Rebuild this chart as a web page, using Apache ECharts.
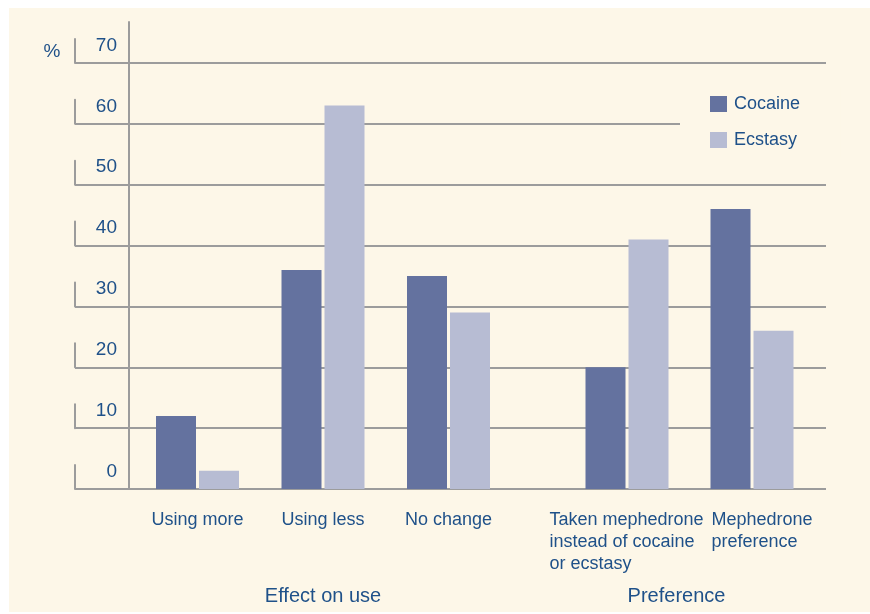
<!DOCTYPE html>
<html>
<head>
<meta charset="utf-8">
<script src="https://cdn.jsdelivr.net/npm/echarts@6/dist/echarts.min.js"></script>
<style>
  html, body { margin: 0; padding: 0; background: #ffffff; }
  #wrap { position: relative; width: 870px; height: 614px; overflow: hidden; }
  #paper { position: absolute; left: 9px; top: 8px; width: 861px; height: 604px; background: #fdf7e8; }
  #chart { position: absolute; left: 0; top: 0; width: 870px; height: 614px; }
</style>
</head>
<body>
<div id="wrap"><div id="paper"></div><div id="chart"></div></div>
<script>
// ---- data ----
const effectCategories = ['Using more', 'Using less', 'No change'];
const preferenceCategories = ['Taken mephedrone\ninstead of cocaine\nor ecstasy', 'Mephedrone\npreference'];
const groupNames = ['Effect on use', 'Preference'];
const seriesNames = ['Cocaine', 'Ecstasy'];
const cocaineEffect = [12, 36, 35];
const ecstasyEffect = [3, 63, 29];
const cocainePreference = [20, 46];
const ecstasyPreference = [41, 26];
const yMin = 0, yMax = 70, yStep = 10;
const yUnit = '%';

// ---- styles ----
const TEXT = '#1f5189';
const GRIDC = '#9c9c9c';
const COC = '#64729f';
const ECS = '#b7bcd3';
const FONT = '"Liberation Sans", Arial, sans-serif';

const chart = echarts.init(document.getElementById('chart'), null, { renderer: 'canvas' });

function richLabel(idx) {
  return (v) => v.split('\n').map(l => '{p' + idx + '|' + l + '}').join('\n');
}

const barCommon = { type: 'bar', barWidth: 40, barGap: '7.5%' };

chart.setOption({
  backgroundColor: 'transparent',
  animation: false,
  textStyle: { fontFamily: FONT },
  legend: {
    orient: 'vertical',
    left: 680, top: 87,
    padding: [8, 40, 8, 30],
    backgroundColor: '#fdf7e8',
    itemWidth: 17, itemHeight: 16, itemGap: 18,
    icon: 'rect',
    data: seriesNames,
    textStyle: { color: TEXT, fontSize: 18, fontFamily: FONT, padding: [0, 0, 0, 2] }
  },
  grid: [
    { left: 134.75, right: 358.75, top: 63, bottom: 125 },   // effect on use
    { left: 564.5, right: 55.5, top: 63, bottom: 125 },      // preference
    { left: 75, right: 44, top: 63, bottom: 125 },           // gridlines & y labels
    { left: 75, right: 44, top: 22, bottom: 125 }            // axis lines
  ],
  xAxis: [
    {
      gridIndex: 0, type: 'category', data: effectCategories,
      axisLine: { show: false }, axisTick: { show: false },
      axisLabel: { interval: 0, color: TEXT, fontSize: 18, fontFamily: FONT, margin: 20, lineHeight: 22 },
      name: groupNames[0], nameLocation: 'middle', nameGap: 97,
      nameTextStyle: { color: TEXT, fontSize: 20, fontFamily: FONT }
    },
    {
      gridIndex: 1, type: 'category', data: preferenceCategories,
      axisLine: { show: false }, axisTick: { show: false },
      axisLabel: {
        interval: 0, hideOverlap: false,
        color: TEXT, fontSize: 18, fontFamily: FONT, margin: 20, lineHeight: 22,
        formatter: (v, i) => richLabel(i)(v),
        rich: {
          p0: { align: 'left', color: TEXT, fontSize: 18, fontFamily: FONT, lineHeight: 22, padding: [0, 1, 0, 0] },
          p1: { align: 'left', color: TEXT, fontSize: 18, fontFamily: FONT, lineHeight: 22, padding: [0, 0, 0, 20] }
        }
      },
      name: groupNames[1], nameLocation: 'middle', nameGap: 97,
      nameTextStyle: { color: TEXT, fontSize: 20, fontFamily: FONT, padding: [0, 26, 0, 0] }
    },
    { gridIndex: 2, type: 'category', show: false },
    { gridIndex: 3, type: 'category', show: false }
  ],
  yAxis: [
    { gridIndex: 0, type: 'value', min: yMin, max: yMax, show: false },
    { gridIndex: 1, type: 'value', min: yMin, max: yMax, show: false },
    {
      gridIndex: 2, type: 'value', min: yMin, max: yMax, interval: yStep,
      axisLine: { show: false }, axisTick: { show: false },
      splitLine: { show: true, lineStyle: { color: GRIDC, width: 2 } },
      axisLabel: {
        inside: true, align: 'right', margin: 42, verticalAlign: 'bottom',
        padding: [0, 0, 8, 0], color: TEXT, fontSize: 19, fontFamily: FONT
      },
      name: yUnit, nameLocation: 'end', nameGap: 2,
      nameTextStyle: { color: TEXT, fontSize: 19, fontFamily: FONT, padding: [0, 46, 0, 0] }
    },
    {
      gridIndex: 3, type: 'value', min: yMin, max: yMax, position: 'left',
      axisLine: { show: true, lineStyle: { color: GRIDC, width: 2, type: [24, 36.86] } },
      axisTick: { show: false }, axisLabel: { show: false }, splitLine: { show: false }
    },
    {
      gridIndex: 3, type: 'value', min: yMin, max: yMax, position: 'left', offset: -54,
      axisLine: { show: true, lineStyle: { color: GRIDC, width: 2 } },
      axisTick: { show: false }, axisLabel: { show: false }, splitLine: { show: false }
    }
  ],
  series: [
    Object.assign({ name: seriesNames[0], xAxisIndex: 0, yAxisIndex: 0, data: cocaineEffect, itemStyle: { color: COC } }, barCommon),
    Object.assign({ name: seriesNames[1], xAxisIndex: 0, yAxisIndex: 0, data: ecstasyEffect, itemStyle: { color: ECS } }, barCommon),
    Object.assign({ name: seriesNames[0], xAxisIndex: 1, yAxisIndex: 1, data: cocainePreference, itemStyle: { color: COC } }, barCommon),
    Object.assign({ name: seriesNames[1], xAxisIndex: 1, yAxisIndex: 1, data: ecstasyPreference, itemStyle: { color: ECS } }, barCommon)
  ]
});
</script>
</body>
</html>
